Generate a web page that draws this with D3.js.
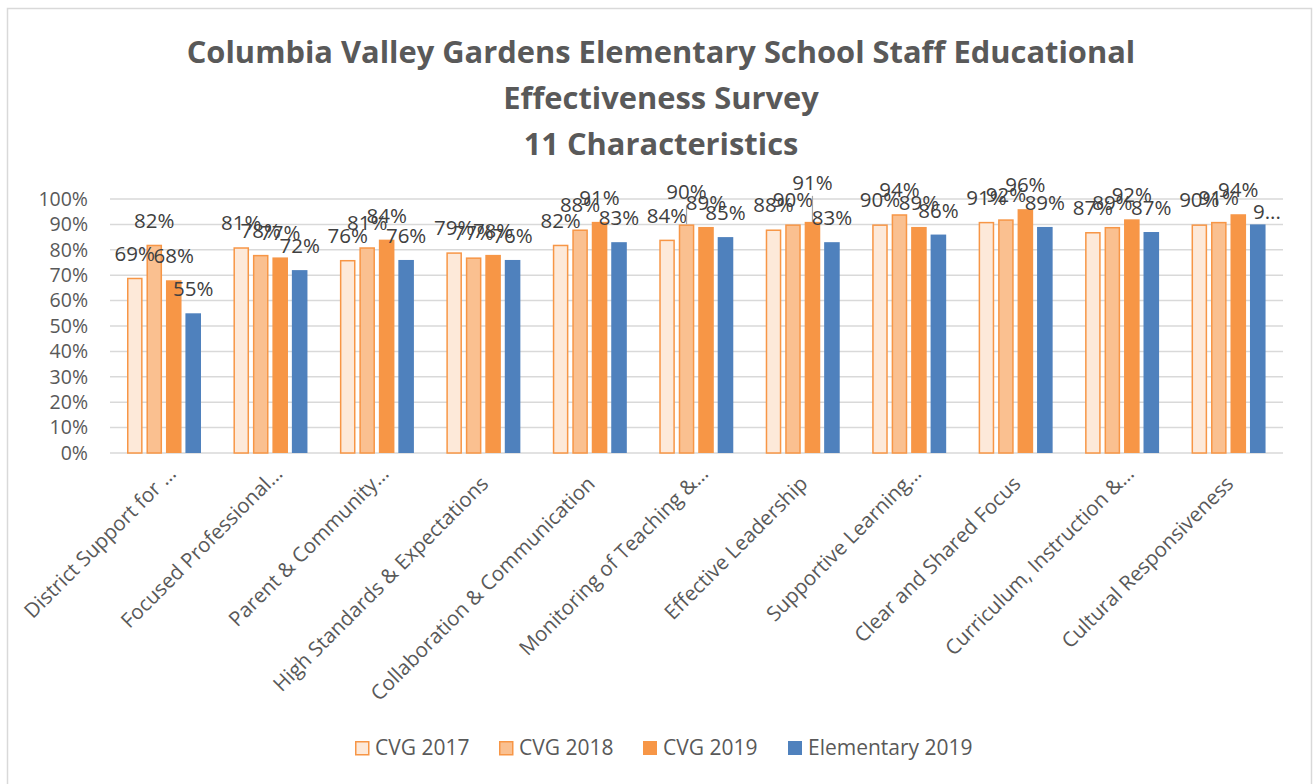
<!DOCTYPE html>
<html>
<head>
<meta charset="utf-8">
<script src="https://cdn.jsdelivr.net/npm/d3@7"></script>
<style>
  html, body { margin: 0; padding: 0; background: #fff; }
  svg { display: block; }
  text { font-family: "Open Sans", "Noto Sans", sans-serif; }
</style>
</head>
<body>
<svg id="chart" width="1313" height="784"></svg>
<script>
// ---- Data ----
const titleLines = [
  "Columbia Valley Gardens Elementary School Staff Educational",
  "Effectiveness Survey",
  "11 Characteristics"
];
const categories = [
  "District Support for \u2026",
  "Focused Professional\u2026",
  "Parent & Community\u2026",
  "High Standards & Expectations",
  "Collaboration & Communication",
  "Monitoring of Teaching &\u2026",
  "Effective Leadership",
  "Supportive Learning\u2026",
  "Clear and Shared Focus",
  "Curriculum, Instruction &\u2026",
  "Cultural Responsiveness"
];
const seriesNames = ["CVG 2017", "CVG 2018", "CVG 2019", "Elementary 2019"];
const cvg2017 = [69, 81, 76, 79, 82, 84, 88, 90, 91, 87, 90];
const cvg2018 = [82, 78, 81, 77, 88, 90, 90, 94, 92, 89, 91];
const cvg2019 = [68, 77, 84, 78, 91, 89, 91, 89, 96, 92, 94];
const elementary2019 = [55, 72, 76, 76, 83, 85, 83, 86, 89, 87, 90];
const yTicks = [0, 10, 20, 30, 40, 50, 60, 70, 80, 90, 100];

const seriesValues = [cvg2017, cvg2018, cvg2019, elementary2019];

// ---- Styles ----
const fills = ["#fde9d9", "#fac090", "#f79646", "#4f81bd"];
const strokes = ["#f79646", "#f79646", "none", "none"];
// labels moved up by Excel with leader lines: [seriesIndex, categoryIndex, extraLift]
const movedLabels = [[1, 5, 8], [2, 6, 15]];

const svg = d3.select("#chart");
const plot = { left: 112, right: 1283, top: 199, bottom: 453 };

// chart border
svg.append("rect")
  .attr("x", 7.5).attr("y", 8.5)
  .attr("width", 1304).attr("height", 800)
  .attr("fill", "#fff").attr("stroke", "#d9d9d9").attr("stroke-width", 1.5);

// title
const tl = svg.append("g").selectAll("text").data(titleLines).join("text")
  .attr("x", 661)
  .attr("y", (d, i) => 63 + i * 46)
  .attr("text-anchor", "middle")
  .attr("font-weight", "bold")
  .attr("fill", "#595959")
  .attr("font-size", 26)
  .text(d => d);
const w0 = tl.nodes()[0].getComputedTextLength();
tl.attr("font-size", Math.max(22, Math.min(26 * 949 / w0, 31)));

// scales
const x0 = d3.scaleBand().domain(d3.range(categories.length)).range([plot.left, plot.right]).padding(0);
const x1 = d3.scaleBand().domain(d3.range(seriesNames.length)).range([15, 89]).paddingInner(0.2);
const y = d3.scaleLinear().domain([0, 100]).range([plot.bottom, plot.top]);

// gridlines
svg.append("g").selectAll("line").data(yTicks).join("line")
  .attr("x1", plot.left - 2).attr("x2", plot.right)
  .attr("y1", d => y(d)).attr("y2", d => y(d))
  .attr("stroke", "#d9d9d9").attr("stroke-width", 1.5);

// y axis labels
const yAxis = d3.axisLeft(y).tickValues(yTicks).tickFormat(d => d + "%").tickSize(0).tickPadding(0);
const yG = svg.append("g").attr("transform", `translate(${plot.left - 24},0)`).call(yAxis);
yG.select(".domain").remove();
yG.selectAll("text").attr("font-size", 19.5).attr("fill", "#595959")
  .attr("font-family", "'Open Sans', 'Noto Sans', sans-serif");

// bars
const groups = svg.append("g").selectAll("g").data(categories).join("g")
  .attr("transform", (d, i) => `translate(${x0(i)},0)`);

groups.selectAll("rect").data((d, ci) => seriesValues.map((s, si) => ({ si, ci, v: s[ci] })))
  .join("rect")
  .attr("x", d => x1(d.si) + (strokes[d.si] !== "none" ? 0.75 : 0))
  .attr("width", d => x1.bandwidth() - (strokes[d.si] !== "none" ? 1.5 : 0))
  .attr("y", d => y(d.v) + (strokes[d.si] !== "none" ? 0.75 : 0))
  .attr("height", d => y(0) - y(d.v) - (strokes[d.si] !== "none" ? 0.75 : 0))
  .attr("fill", d => fills[d.si])
  .attr("stroke", d => strokes[d.si])
  .attr("stroke-width", 1.5);

// data labels
const labelData = [];
seriesValues.forEach((s, si) => s.forEach((v, ci) => labelData.push({ si, ci, v })));
const lg = svg.append("g");
labelData.forEach(d => {
  const cx = x0(d.ci) + x1(d.si) + x1.bandwidth() / 2;
  const moved = movedLabels.find(m => m[0] === d.si && m[1] === d.ci);
  const lift = moved ? moved[2] : 0;
  const baseY = y(d.v) - 17 - lift;
  const t = lg.append("text")
    .attr("x", cx).attr("y", baseY)
    .attr("text-anchor", "middle")
    .attr("font-size", 20.5)
    .attr("fill", "#404040")
    .text(d.v + "%");
  const w = t.node().getComputedTextLength();
  if (cx + w / 2 > plot.right - 8) {
    // Excel truncates a label that reaches the plot edge
    t.attr("text-anchor", "start").attr("x", x0(d.ci) + x1(d.si) + 3).attr("y", baseY + 12)
      .text(String(d.v)[0] + "...");
  }
  if (moved) {
    lg.append("line")
      .attr("x1", cx).attr("x2", cx)
      .attr("y1", baseY + 6).attr("y2", y(d.v))
      .attr("stroke", "#a6a6a6").attr("stroke-width", 1.2);
  }
});

// x axis labels
svg.append("g").selectAll("text").data(categories).join("text")
  .attr("transform", (d, i) => {
    const cx = x0(i) + x0.bandwidth() / 2;
    const ell = d.endsWith("\u2026");
    const ax = cx + (ell ? 12 : 5);
    const ay = plot.bottom + (ell ? 22 : 32);
    return `translate(${ax},${ay}) rotate(-45)`;
  })
  .attr("text-anchor", "end")
  .attr("font-size", 20.5)
  .attr("fill", "#595959")
  .text(d => d);

// legend
const legendX = [355, 499, 643, 788];
const leg = svg.append("g").selectAll("g").data(seriesNames).join("g")
  .attr("transform", (d, i) => `translate(${legendX[i]},741)`);
leg.append("rect")
  .attr("x", (d, i) => strokes[i] !== "none" ? 0.75 : 0)
  .attr("y", (d, i) => strokes[i] !== "none" ? 0.75 : 0)
  .attr("width", (d, i) => strokes[i] !== "none" ? 13 : 14)
  .attr("height", (d, i) => strokes[i] !== "none" ? 13 : 14)
  .attr("fill", (d, i) => fills[i])
  .attr("stroke", (d, i) => strokes[i])
  .attr("stroke-width", 1.5);
leg.append("text")
  .attr("x", 20).attr("y", 14)
  .attr("font-size", 21)
  .attr("fill", "#595959")
  .text(d => d);
</script>
</body>
</html>
